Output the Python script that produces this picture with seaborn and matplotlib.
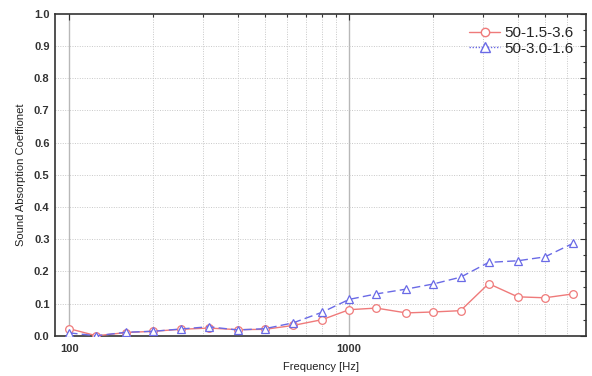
import matplotlib
matplotlib.use("Agg")
import matplotlib.pyplot as plt
from matplotlib.lines import Line2D
from matplotlib.ticker import FixedLocator, NullFormatter, MultipleLocator, FormatStrFormatter
import numpy as np
import pandas as pd
import seaborn as sns

# One-third octave band centre frequencies (Hz)
freqs = [100, 125, 160, 200, 250, 315, 400, 500, 630, 800,
         1000, 1250, 1600, 2000, 2500, 3150, 4000, 5000, 6300]

# Absorption coefficients of the two samples
alpha_15_36 = [0.022, 0.000, 0.010, 0.014, 0.020, 0.024, 0.019, 0.020, 0.032, 0.050,
               0.081, 0.086, 0.071, 0.074, 0.078, 0.162, 0.121, 0.118, 0.130]
alpha_30_16 = [0.009, 0.000, 0.011, 0.014, 0.021, 0.028, 0.018, 0.022, 0.040, 0.073,
               0.113, 0.130, 0.145, 0.161, 0.182, 0.228, 0.233, 0.245, 0.287]

labels = ["50-1.5-3.6", "50-3.0-1.6"]
x_ticklabels = ["100", "1000"]

red = "#ef7a7a"
blue = "#6a6ae6"

sns.set_theme(style="white")
plt.rcParams["font.family"] = ["Liberation Sans", "DejaVu Sans"]

fig = plt.figure(figsize=(5.92, 3.76), dpi=100)
ax = fig.add_axes([0.093, 0.107, 0.897, 0.856])

df = pd.DataFrame({"f": freqs, "a1": alpha_15_36, "a2": alpha_30_16})

# vertical grid at every log position, solid at the decades
minor_pos = [m * d for d in (100, 1000) for m in range(2, 10) if m * d < 7000]
for xv in minor_pos:
    ax.axvline(xv, color="#c8c8c8", lw=0.7, ls=(0, (1, 1.5)), zorder=0)
for xv in (100, 1000):
    ax.axvline(xv, color="#b8b8b8", lw=1.0, ls="-", zorder=0)
for yv in np.arange(0.1, 1.0, 0.1):
    ax.axhline(yv, color="#c8c8c8", lw=0.7, ls=(0, (1, 1.5)), zorder=0)

sns.lineplot(data=df, x="f", y="a1", ax=ax, color=red, lw=1.0,
             marker="o", markersize=5.5, markerfacecolor="white",
             markeredgecolor=red, markeredgewidth=0.9, zorder=3)
sns.lineplot(data=df, x="f", y="a2", ax=ax, color=blue, lw=1.0,
             marker="^", markersize=6, markerfacecolor="white",
             markeredgecolor=blue, markeredgewidth=0.9, zorder=4)
ax.lines[-1].set_linestyle((0, (6, 3)))

ax.set_xscale("log")
ax.set_xlim(89, 7020)
ax.set_ylim(0, 1.0)

ax.xaxis.set_major_locator(FixedLocator([100, 1000]))
ax.set_xticklabels(x_ticklabels)
ax.xaxis.set_minor_locator(FixedLocator(minor_pos))
ax.xaxis.set_minor_formatter(NullFormatter())
ax.yaxis.set_major_locator(MultipleLocator(0.1))
ax.yaxis.set_minor_locator(MultipleLocator(0.05))
ax.yaxis.set_major_formatter(FormatStrFormatter("%.1f"))

ax.tick_params(which="both", direction="in", top=True, right=True,
               color="#333333", width=0.8)
ax.tick_params(which="major", length=4, labelsize=8, labelcolor="#333333", pad=4)
ax.tick_params(axis="x", which="major", pad=6)
ax.tick_params(which="minor", length=2.5)
for lab in ax.get_xticklabels() + ax.get_yticklabels():
    lab.set_fontweight("bold")

for sp in ax.spines.values():
    sp.set_color("#333333")
    sp.set_linewidth(1.2)

ax.set_xlabel("Frequency [Hz]", fontsize=8, color="#222222", labelpad=6)
ax.set_ylabel("Sound Absorption Coeffionet", fontsize=8, color="#222222", labelpad=6)

handles = [
    Line2D([], [], color=red, lw=1.0, marker="o", markersize=6,
           markerfacecolor="white", markeredgecolor=red),
    Line2D([], [], color=blue, lw=1.0, ls=(0, (1, 1.2)), marker="^", markersize=6.5,
           markerfacecolor="white", markeredgecolor=blue),
]
ax.legend(handles, labels, loc="upper right", frameon=False, fontsize=11,
          handlelength=2.0, handletextpad=0.3, labelspacing=0.1,
          borderaxespad=0.4)

fig.savefig("out.png", dpi=100)
